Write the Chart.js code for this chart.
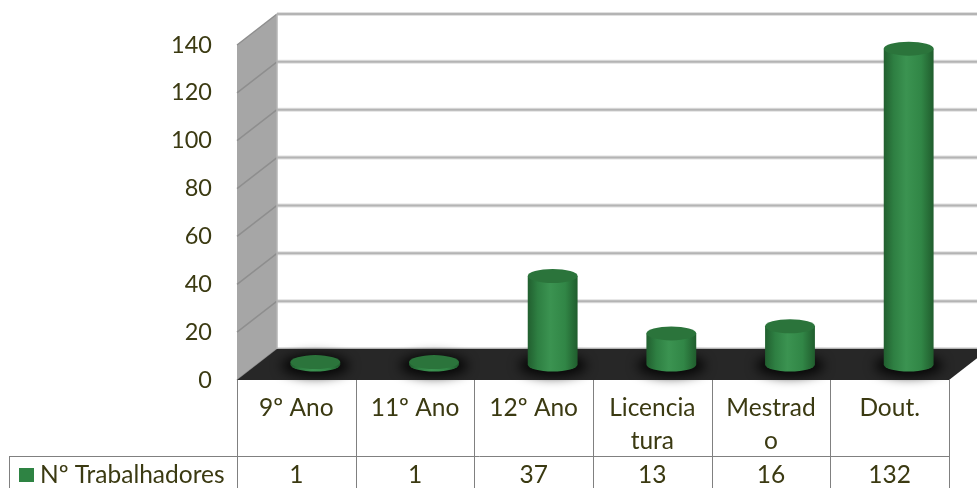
<!DOCTYPE html>
<html>
<head>
<meta charset="utf-8">
<script src="https://cdn.jsdelivr.net/npm/chart.js@4"></script>
<style>
  html, body { margin: 0; padding: 0; background: #fff; }
  #wrap { width: 977px; height: 488px; }
</style>
</head>
<body>
<div id="wrap"><canvas id="chart" width="977" height="488"></canvas></div>
<script>
var categories = ['9º Ano', '11º Ano', '12º Ano', ['Licencia', 'tura'], ['Mestrad', 'o'], 'Dout.'];
var trabalhadores = [1, 1, 37, 13, 16, 132];
var seriesName = 'Nº Trabalhadores';
var yTicks = [0, 20, 40, 60, 80, 100, 120, 140];

var textColor = '#3b3a12';
var font = '24.5px Lato';
var depthX = 40, depthY = 31;

function drawCylinder(ctx, cx, yBase, yTop, rx, ry) {
  // shadow on floor
  ctx.save();
  ctx.filter = 'blur(6px)';
  ctx.fillStyle = 'rgba(0,0,0,0.85)';
  ctx.beginPath();
  ctx.ellipse(cx, yBase + 1, rx + 9, ry + 4, 0, 0, Math.PI * 2);
  ctx.fill();
  ctx.restore();

  var g = ctx.createLinearGradient(cx - rx, 0, cx + rx, 0);
  g.addColorStop(0, '#215f2f');
  g.addColorStop(0.2, '#2e7f42');
  g.addColorStop(0.45, '#3b9351');
  g.addColorStop(0.75, '#318646');
  g.addColorStop(1, '#205d2d');
  ctx.fillStyle = g;
  ctx.beginPath();
  ctx.moveTo(cx - rx, yTop);
  ctx.lineTo(cx - rx, yBase);
  ctx.ellipse(cx, yBase, rx, ry, 0, Math.PI, 0, true);
  ctx.lineTo(cx + rx, yTop);
  ctx.closePath();
  ctx.fill();

  ctx.fillStyle = '#2b743b';
  ctx.beginPath();
  ctx.ellipse(cx, yTop, rx, ry, 0, 0, Math.PI * 2);
  ctx.fill();
}

var scenePlugin = {
  id: 'scene',
  beforeDatasetsDraw: function (chart) {
    var ctx = chart.ctx, y = chart.scales.y, a = chart.chartArea;
    var x0 = a.left, x1 = a.right;
    var y0 = y.getPixelForValue(0), yMax = y.getPixelForValue(140);
    ctx.save();
    // side wall
    ctx.fillStyle = '#a6a6a6';
    ctx.beginPath();
    ctx.moveTo(x0, yMax);
    ctx.lineTo(x0 + depthX, yMax - depthY);
    ctx.lineTo(x0 + depthX, y0 - depthY);
    ctx.lineTo(x0, y0);
    ctx.closePath();
    ctx.fill();
    ctx.strokeStyle = '#8e8e8e';
    ctx.lineWidth = 1.5;
    yTicks.forEach(function (v) {
      var py = y.getPixelForValue(v);
      ctx.beginPath();
      ctx.moveTo(x0, py);
      ctx.lineTo(x0 + depthX, py - depthY);
      ctx.stroke();
    });
    // back wall grid
    yTicks.forEach(function (v) {
      var py = y.getPixelForValue(v) - depthY;
      ctx.strokeStyle = '#e0e0e0';
      ctx.lineWidth = 4;
      ctx.beginPath();
      ctx.moveTo(x0 + depthX, py);
      ctx.lineTo(chart.width, py);
      ctx.stroke();
      ctx.strokeStyle = '#b4b4b4';
      ctx.lineWidth = 2;
      ctx.beginPath();
      ctx.moveTo(x0 + depthX, py);
      ctx.lineTo(chart.width, py);
      ctx.stroke();
    });
    ctx.strokeStyle = '#b4b4b4';
    ctx.lineWidth = 1.5;
    ctx.beginPath();
    ctx.moveTo(x0 + depthX, yMax - depthY);
    ctx.lineTo(x0 + depthX, y0 - depthY);
    ctx.stroke();
    // floor
    ctx.fillStyle = '#272727';
    ctx.beginPath();
    ctx.moveTo(x0, y0);
    ctx.lineTo(x0 + depthX, y0 - depthY);
    ctx.lineTo(x1 + depthX, y0 - depthY);
    ctx.lineTo(x1, y0);
    ctx.closePath();
    ctx.fill();
    ctx.restore();
  },
  afterDatasetsDraw: function (chart) {
    var ctx = chart.ctx, y = chart.scales.y;
    var meta = chart.getDatasetMeta(0);
    var base = y.getPixelForValue(0);
    ctx.save();
    meta.data.forEach(function (bar) {
      var p = bar.getProps(['x', 'y', 'width'], true);
      drawCylinder(ctx, p.x + depthX / 2 - 1, base - depthY / 2, p.y - depthY / 2, p.width / 2, 7);
    });
    ctx.restore();
  },
  afterDraw: function (chart) {
    var ctx = chart.ctx, x = chart.scales.x, a = chart.chartArea;
    var top = a.bottom, mid = top + 76, bottom = chart.height;
    var w = (a.right - a.left) / categories.length;
    ctx.save();
    ctx.strokeStyle = '#808080';
    ctx.lineWidth = 1;
    for (var i = 0; i <= categories.length; i++) {
      var lx = Math.round(a.left + i * w) + 0.5;
      ctx.beginPath();
      ctx.moveTo(lx, top);
      ctx.lineTo(lx, bottom);
      ctx.stroke();
    }
    ctx.beginPath();
    ctx.moveTo(9.5, mid + 0.5);
    ctx.lineTo(Math.round(a.right) + 0.5, mid + 0.5);
    ctx.moveTo(9.5, mid);
    ctx.lineTo(9.5, bottom);
    ctx.stroke();

    ctx.fillStyle = textColor;
    ctx.font = font;
    ctx.textAlign = 'center';
    ctx.textBaseline = 'middle';
    categories.forEach(function (c, i) {
      var cx = x.getPixelForValue(i);
      var lines = Array.isArray(c) ? c : [c];
      lines.forEach(function (t, j) {
        ctx.fillText(t, cx, top + 28 + j * 33);
      });
      ctx.fillText(String(trabalhadores[i]), cx, mid + 19);
    });
    ctx.fillStyle = '#2e8343';
    ctx.fillRect(19, mid + 12, 15, 14);
    ctx.fillStyle = textColor;
    ctx.textAlign = 'left';
    ctx.fillText(seriesName, 40, mid + 19);
    ctx.restore();
  }
};

new Chart(document.getElementById('chart'), {
  type: 'bar',
  data: {
    labels: categories,
    datasets: [{
      label: seriesName,
      data: trabalhadores,
      backgroundColor: 'rgba(0,0,0,0)',
      borderWidth: 0,
      categoryPercentage: 1,
      barPercentage: 0.42
    }]
  },
  options: {
    responsive: false,
    animation: false,
    layout: { padding: { left: 0, right: 28, top: 45, bottom: 108 } },
    plugins: { legend: { display: false }, tooltip: { enabled: false } },
    scales: {
      x: { display: false },
      y: {
        min: 0,
        max: 140,
        afterFit: function (s) { s.width = 237; },
        grid: { display: false, drawTicks: false },
        border: { display: false },
        ticks: { stepSize: 20, padding: 25, color: textColor, font: { family: 'Lato', size: 23.5 } }
      }
    }
  },
  plugins: [scenePlugin]
});
</script>
</body>
</html>
